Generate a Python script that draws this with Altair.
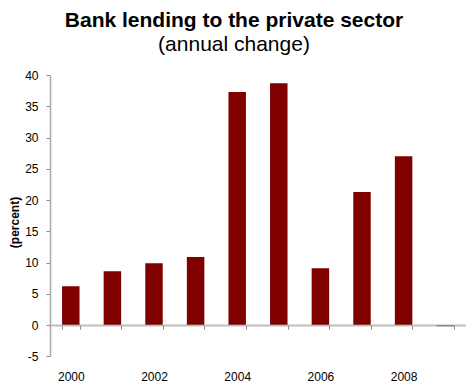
import altair as alt
import pandas as pd

years = ["2000", "2001", "2002", "2003", "2004", "2005", "2006", "2007", "2008", "2009"]
values = [6.2, 8.6, 9.9, 10.9, 37.3, 38.7, 9.1, 21.3, 27.0, -0.2]
y_ticks = [-5, 0, 5, 10, 15, 20, 25, 30, 35, 40]

df = pd.DataFrame({"year": years, "value": values})

FONT = "Liberation Sans"

bars = alt.Chart(df).mark_bar(color="#800000").encode(
    x=alt.X(
        "year:N",
        sort=years,
        scale=alt.Scale(paddingInner=0.58, paddingOuter=0.29),
        axis=alt.Axis(
            title=None,
            offset=-31.25,
            zindex=1,
            domainColor="#a8a8a8",
            domainOpacity=0.75,
            domainWidth=2,
            tickBand="extent",
            tickColor="#888888",
            tickSize=4,
            tickWidth=1,
            labelAngle=0,
            labelPadding=42,
            labelFont=FONT,
            labelFontSize=12,
            labelColor="#000000",
            labelExpr="toNumber(datum.value) % 2 == 0 ? datum.label : ''",
        ),
    ),
    y=alt.Y(
        "value:Q",
        scale=alt.Scale(domain=[-5, 40], nice=False),
        axis=alt.Axis(
            title="(percent)",
            values=y_ticks,
            grid=False,
            domainColor="#a8a8a8",
            domainWidth=1.5,
            tickColor="#888888",
            tickSize=4,
            labelPadding=8,
            labelFont=FONT,
            labelFontSize=12,
            labelColor="#000000",
            labelExpr="'' + datum.value",
            titleFont=FONT,
            titleFontSize=12,
            titleFontWeight="bold",
            titleColor="#000000",
            titlePadding=3,
            titleY=147,
        ),
    ),
)

chart = bars.properties(
    width=416,
    height=281.25,
    autosize=alt.AutoSizeParams(type="none"),
    padding={"left": 50, "top": 75, "right": 0, "bottom": 27},
    title=alt.TitleParams(
        text="Bank lending to the private sector",
        subtitle="(annual change)",
        font=FONT,
        fontSize=21,
        fontWeight="bold",
        color="#000000",
        subtitleFont=FONT,
        subtitleFontSize=21,
        subtitleColor="#000000",
        subtitlePadding=3,
        anchor="middle",
        dx=-24,
        offset=14,
    ),
).configure_view(stroke=None)

chart.save("out.html", embed_options={"renderer": "svg", "actions": False})
